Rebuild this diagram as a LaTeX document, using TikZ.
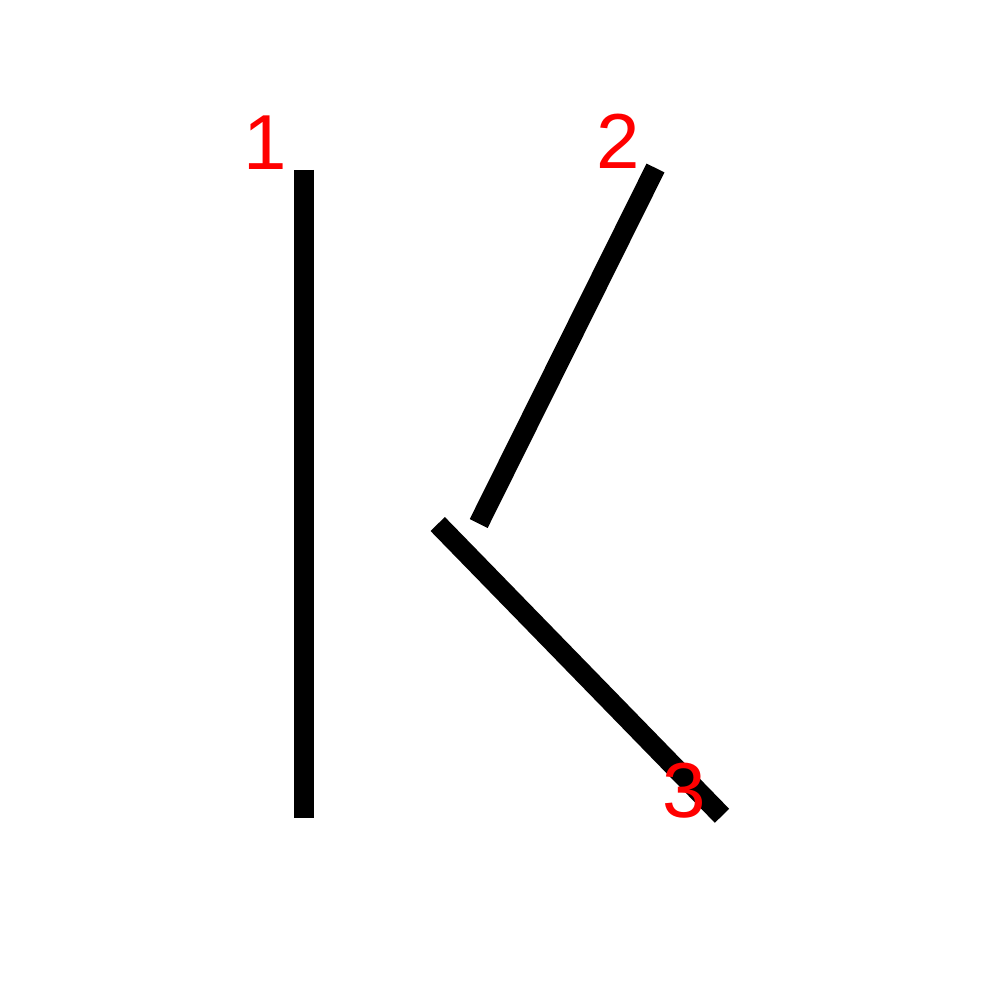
\documentclass[tikz,border=0pt]{standalone}
\usepackage{fontspec}
\setmainfont{Liberation Sans}
\begin{document}
\begin{tikzpicture}[x=1pt,y=-1pt,
  stroke/.style={line width=20pt,line cap=butt,black},
  numlabel/.style={text=red,font=\fontsize{78}{78}\selectfont,inner sep=0pt,anchor=base}]
\useasboundingbox[fill=white] (0,0) rectangle (1000,1000);
\coordinate (s1a) at (304,170);
\coordinate (s1b) at (304,818);
\coordinate (s2a) at (655.5,168);
\coordinate (s2b) at (478.7,523.5);
\coordinate (s3a) at (437.7,524);
\coordinate (s3b) at (722,815.8);
\draw[stroke] (s1a) -- (s1b);
\draw[stroke] (s2a) -- (s2b);
\draw[stroke] (s3a) -- (s3b);
\node[numlabel] (n1) at (265,170) {1};
\node[numlabel] (n2) at (618,169) {2};
\node[numlabel] (n3) at (684,817.5) {3};
\end{tikzpicture}
\end{document}
